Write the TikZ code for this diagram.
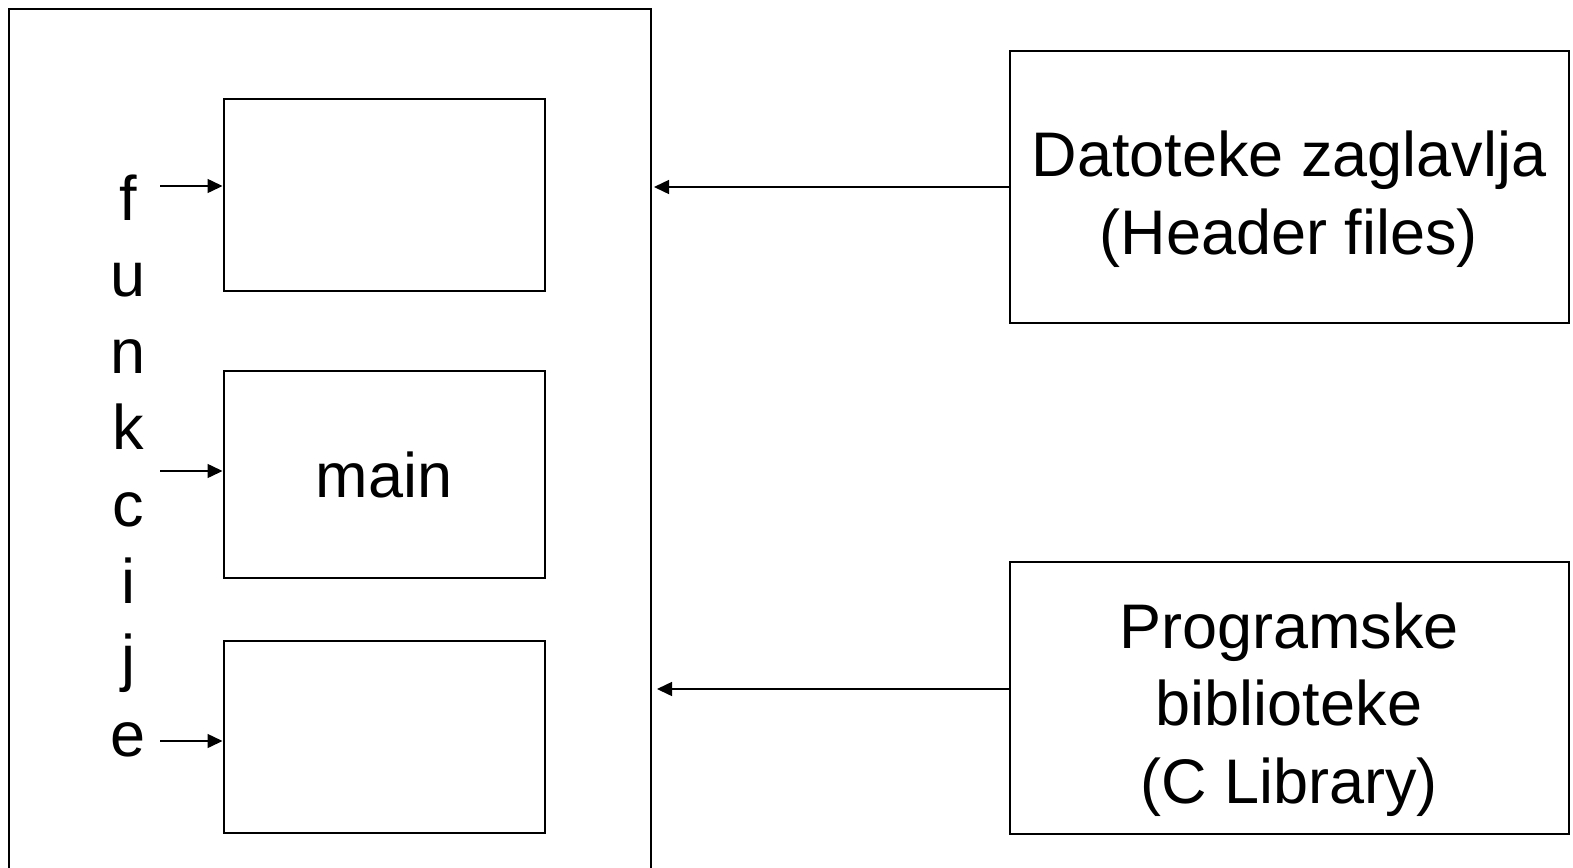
\documentclass[tikz,border=0pt]{standalone}
\usepackage{fontspec}
\setmainfont{Liberation Sans}
\usetikzlibrary{arrows.meta, positioning}
\tikzset{
  fnbox/.style = {rectangle, draw=black, line width=1pt, minimum width=160.5pt, inner sep=0pt, align=center},
  srcbox/.style = {rectangle, draw=black, line width=1pt, minimum width=279.5pt, minimum height=136pt},
  srctext/.style = {align=center, yshift=-6pt, font=\fontsize{31.5}{38.75}\selectfont},
  letter/.style = {inner sep=0pt, anchor=base},
  arrow/.style = {line width=0.75pt, -{Triangle[length=7.5pt,width=7pt]}}
}
\begin{document}
\begin{tikzpicture}[x=0.5pt, y=-0.5pt, font=\fontsize{31.5}{38.5}\selectfont]
\path[use as bounding box, clip] (0,0) rectangle (1573,867);

% program (open at the bottom)
\node (prog) [draw=black, line width=1pt, minimum width=321pt, minimum height=500pt, anchor=north west, inner sep=0pt] at (8,8) {};

\node (fn1) [fnbox, minimum height=96pt] at (384,195) {};
\node (fn2) [fnbox, minimum height=103.5pt] at (384,474.5) {main};
\node (fn3) [fnbox, minimum height=96pt] at (384,737) {};

\node (hdr) [srcbox, label={[srctext]center:Datoteke zaglavlja\\(Header files)}] at (1289,187) {};
\node (lib) [srcbox, label={[srctext]center:Programske\\biblioteke\\(C Library)}] at (1289,697.5) {};

% vertical label
\foreach \ch [count=\i from 0] in {f,u,n,k,c,i,j,e}
  \node (l\i) [letter] at (128,220+76.6*\i) {\ch};

\coordinate (in1) at (160,186);
\coordinate (in2) at (160,471);
\coordinate (in3) at (160,741);

\draw [arrow] (in1) -- (in1 -| fn1.west);
\draw [arrow] (in2) -- (in2 -| fn2.west);
\draw [arrow] (in3) -- (in3 -| fn3.west);

\draw [arrow, shorten >=1pt] (hdr.west) -- (hdr.west -| prog.east);
\draw [arrow, shorten >=2.5pt] ([yshift=4.25pt]lib.west) -- ([yshift=4.25pt]lib.west -| prog.east);

\end{tikzpicture}
\end{document}
